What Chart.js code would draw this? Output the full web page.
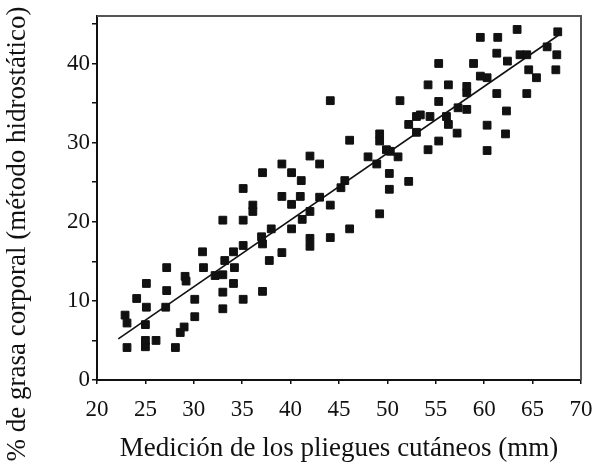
<!DOCTYPE html>
<html lang="es">
<head>
  <meta charset="UTF-8">
  <title>Pliegues cutáneos vs grasa corporal</title>
  <style>
    html, body {
      margin: 0;
      padding: 0;
      background: #fff;
      overflow: hidden;
    }
  </style>
</head>
<body>

  <canvas id="scatterChart" width="607" height="471"></canvas>

  <script src="https://cdn.jsdelivr.net/npm/chart.js"></script>

  <script>
    // Medición de los pliegues cutáneos (mm)
    const pliegues = [
      23.1, 22.9, 23.1, 24.1, 25.0, 25.0, 26.1, 25.0, 25.1, 25.1,
      27.2, 27.2, 27.1, 28.1, 28.6, 29.0, 29.1, 29.2, 30.1, 30.1,
      30.9, 31.0, 32.2, 33.0, 33.0, 33.0, 33.2, 34.1, 34.2, 34.1,
      35.1, 35.1, 33.0, 35.1, 35.1, 36.1, 36.1, 37.0, 37.1, 37.1,
      37.8, 38.0, 37.1, 39.1, 40.1, 41.1, 39.1, 40.1, 41.0, 39.1,
      40.1, 41.2, 42.0, 42.0, 42.0, 43.0, 44.1, 44.1, 42.0, 43.0,
      44.1, 45.2, 45.6, 46.1, 46.1, 48.0, 48.9, 49.2, 49.2, 49.2,
      49.9, 50.3, 50.2, 50.2, 51.1, 51.3, 52.2, 52.2, 53.0, 53.0,
      53.4, 54.4, 54.2, 55.3, 54.2, 55.3, 55.3, 56.1, 56.3, 56.3,
      57.2, 57.3, 58.2, 58.2, 58.2, 58.9, 59.6, 60.3, 60.3, 60.3,
      59.6, 61.4, 61.3, 61.3, 62.4, 62.3, 62.2, 63.4, 63.7, 64.4,
      64.4, 64.6, 65.4, 66.5, 67.5, 67.4, 67.6
    ];

    // % de grasa corporal (método hidrostático)
    const grasa = [
      4.1, 8.2, 7.2, 10.3, 4.2, 5.0, 5.0, 7.0, 9.2, 12.2,
      14.2, 11.3, 9.2, 4.1, 6.0, 6.7, 13.1, 12.5, 10.2, 8.0,
      16.2, 14.2, 13.2, 13.3, 11.1, 9.0, 15.1, 16.2, 14.2, 12.2,
      17.0, 10.2, 20.2, 20.2, 24.2, 22.1, 21.3, 18.1, 17.2, 11.2,
      15.1, 19.1, 26.2, 27.3, 26.2, 25.2, 23.2, 22.2, 23.2, 16.1,
      19.1, 20.3, 21.3, 17.9, 16.9, 23.1, 22.1, 18.0, 28.3, 27.3,
      35.3, 24.3, 25.2, 19.1, 30.3, 28.2, 27.3, 31.1, 30.2, 21.0,
      29.1, 28.9, 26.1, 24.1, 28.2, 35.3, 32.3, 25.1, 33.3, 31.3,
      33.5, 33.3, 29.1, 30.2, 37.3, 35.2, 40.0, 33.3, 32.3, 37.3,
      31.2, 34.4, 34.2, 37.1, 36.3, 40.0, 38.4, 38.2, 32.2, 29.0,
      43.3, 43.3, 41.3, 36.2, 40.3, 34.0, 31.1, 44.3, 41.1, 41.1,
      36.2, 39.2, 38.2, 42.1, 41.1, 39.2, 44.0
    ];

    // Recta de regresión (extremos)
    const rectaX = [22.2, 67.7];
    const rectaY = [5.2, 43.6];

    const xTicks = [20, 25, 30, 35, 40, 45, 50, 55, 60, 65, 70];
    const yTickLabels = [0, 10, 20, 30, 40];

    const tituloX = 'Medición de los pliegues cutáneos (mm)';
    const tituloY = '% de grasa corporal (método hidrostático)';

    const serif = "'Liberation Serif', 'Times New Roman', serif";

    // Marco superior y derecho + título vertical (más largo que el eje)
    const framePlugin = {
      id: 'frame',
      afterDraw(chart) {
        const { ctx, chartArea: a } = chart;
        ctx.save();
        ctx.strokeStyle = '#555';
        ctx.lineWidth = 2;
        ctx.beginPath();
        ctx.moveTo(a.left, a.top);
        ctx.lineTo(a.right, a.top);
        ctx.lineTo(a.right, a.bottom);
        ctx.stroke();

        ctx.translate(18, 234);
        ctx.rotate(-Math.PI / 2);
        ctx.fillStyle = '#111';
        ctx.font = '27px ' + serif;
        ctx.textAlign = 'center';
        ctx.textBaseline = 'middle';
        ctx.fillText(tituloY, 0, 0);
        ctx.restore();
      }
    };

    const puntos = pliegues.map((x, i) => ({ x: x, y: grasa[i] }));
    const recta = rectaX.map((x, i) => ({ x: x, y: rectaY[i] }));

    const ctx = document.getElementById('scatterChart').getContext('2d');
    new Chart(ctx, {
      type: 'scatter',
      data: {
        datasets: [
          {
            label: 'Datos',
            data: puntos,
            pointStyle: 'rect',
            pointRadius: 5.5,
            pointBorderWidth: 1,
            backgroundColor: '#111',
            borderColor: '#111'
          },
          {
            type: 'line',
            label: 'Regresión',
            data: recta,
            borderColor: '#111',
            borderWidth: 1.6,
            pointRadius: 0,
            fill: false
          }
        ]
      },
      options: {
        responsive: false,
        animation: false,
        layout: {
          padding: { top: 16, right: 26, left: 0, bottom: 0 }
        },
        plugins: {
          legend: { display: false },
          tooltip: { enabled: false }
        },
        scales: {
          x: {
            type: 'linear',
            min: 20,
            max: 70,
            afterFit(scale) { scale.height = 91; },
            afterBuildTicks(scale) {
              scale.ticks = xTicks.map(v => ({ value: v }));
            },
            border: { display: true, color: '#111', width: 2 },
            grid: {
              drawOnChartArea: false,
              drawTicks: true,
              tickLength: 4,
              color: '#111',
              lineWidth: 1.5
            },
            ticks: {
              color: '#111',
              padding: 12,
              maxRotation: 0,
              font: { family: serif, size: 23 }
            },
            title: {
              display: true,
              text: tituloX,
              color: '#111',
              padding: { top: 0, bottom: 6 },
              font: { family: serif, size: 27 }
            }
          },
          y: {
            type: 'linear',
            min: 0,
            max: 46,
            afterFit(scale) { scale.width = 97; },
            afterBuildTicks(scale) {
              const t = [];
              for (let v = 0; v <= 45; v += 5) t.push({ value: v });
              scale.ticks = t;
            },
            border: { display: true, color: '#111', width: 2 },
            grid: {
              drawOnChartArea: false,
              drawTicks: true,
              tickLength: 5,
              color: '#111',
              lineWidth: 1.5
            },
            ticks: {
              color: '#111',
              padding: 2,
              font: { family: serif, size: 23 },
              callback: (v) => yTickLabels.includes(v) ? String(v) : ''
            },
            title: { display: false }
          }
        }
      },
      plugins: [framePlugin]
    });
  </script>

</body>
</html>
